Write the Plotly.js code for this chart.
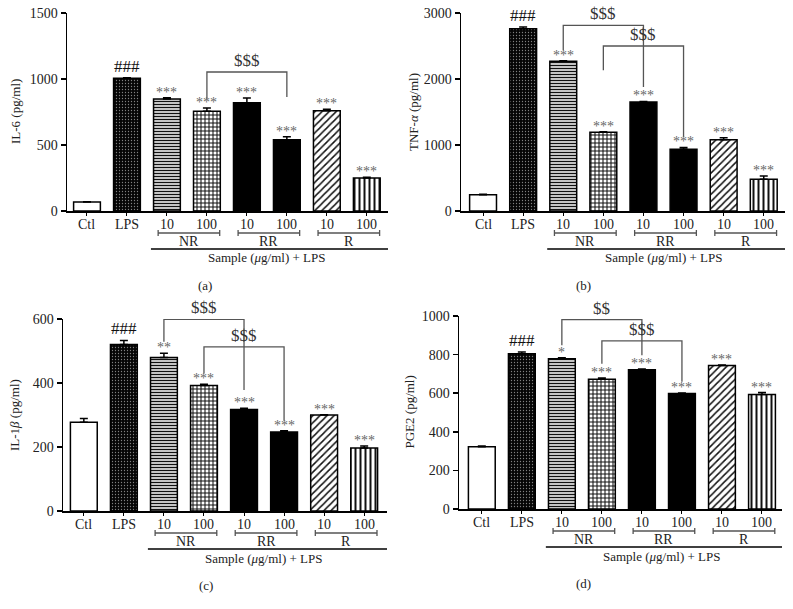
<!DOCTYPE html>
<html><head><meta charset="utf-8">
<script src="https://cdn.plot.ly/plotly-3.0.1.min.js"></script>
<style>html,body{margin:0;padding:0;background:#fff}#chart{width:793px;height:609px}</style>
</head><body><div id="chart"></div>
<script>
// ---- data ----
const tickLabels = ['Ctl','LPS','10','100','10','100','10','100'];
const groupLabels = ['NR','RR','R'];
const sampleLabel = 'Sample (<i>μ</i>g/ml) + LPS';

const il6    = [68, 1005, 848, 755, 820, 540, 760, 250];
const il6Err = [3, 4, 10, 25, 36, 23, 10, 5];
const il6Sig = ['', '###', '***', '***', '***', '***', '***', '***'];

const tnf    = [247, 2763, 2268, 1192, 1652, 934, 1081, 480];
const tnfErr = [5, 25, 10, 8, 8, 30, 30, 50];
const tnfSig = ['', '###', '***', '***', '***', '***', '***', '***'];

const il1b    = [277, 520, 480, 392, 317, 247, 300, 197];
const il1bErr = [12, 13, 13, 4, 4, 4, 1, 6];
const il1bSig = ['', '###', '**', '***', '***', '***', '***', '***'];

const pge2    = [322, 805, 779, 672, 722, 598, 743, 593];
const pge2Err = [5, 9, 5, 7, 3, 3, 3, 10];
const pge2Sig = ['', '###', '*', '***', '***', '***', '***', '***'];

// comparison brackets: [from, to, top, leftEnd, rightEnd, label]
const il6Cmp  = [[3, 5, 1053, 846, 864, '$$$']];
const tnfCmp  = [[2, 4, 2813, 2434, 1879, '$$$'], [3, 5, 2500, 2131, 1121, '$$$']];
const il1bCmp = [[2, 4, 599, 529, 378, '$$$'], [3, 5, 513, 430, 282, '$$$']];
const pge2Cmp = [[2, 4, 981, 848, 797, '$$'], [3, 5, 871, 753, 659, '$$$']];

// ---- styling ----
const W = 793, H = 609;
const FONT = 'Liberation Serif';
const FS = 13;
const px = x => x / W, py = y => 1 - y / H;

const barStyles = [
  {bg: '#ffffff', fg: '#000', shape: '',  size: 4, sol: 0.3},
  {bg: '#050505', fg: '#808080', shape: '.', size: 3, sol: 0.15},
  {bg: '#ffffff', fg: '#111', shape: '-', size: 3, sol: 0.5},
  {bg: '#ffffff', fg: '#111', shape: '+', size: 4, sol: 0.45},
  {bg: '#000000', fg: '#000', shape: '',  size: 4, sol: 0.3},
  {bg: '#000000', fg: '#000', shape: '',  size: 4, sol: 0.3},
  {bg: '#ffffff', fg: '#111', shape: '/', size: 5, sol: 0.3},
  {bg: '#ffffff', fg: '#111', shape: '|', size: 5, sol: 0.4}
];

const panels = [
  {id:'', vals:il6, err:il6Err, sig:il6Sig, cmp:il6Cmp, l:67, r:388, t:13, b:211, xr:[-0.5,7.53], yr:[0,1500], dt:500, title:'IL-6 (pg/ml)', tx:15, lab:'(a)', lx:196},
  {id:'2', vals:tnf, err:tnfErr, sig:tnfSig, cmp:tnfCmp, l:461, r:785, t:13, b:211, xr:[-0.55,7.53], yr:[0,3000], dt:1000, title:'TNF-<i>α</i> (pg/ml)', tx:413, lab:'(b)', lx:593},
  {id:'3', vals:il1b, err:il1bErr, sig:il1bSig, cmp:il1bCmp, l:63, r:387, t:319, b:511, xr:[-0.52,7.57], yr:[0,600], dt:200, title:'IL-1<i>β</i> (pg/ml)', tx:15, lab:'(c)', lx:197},
  {id:'4', vals:pge2, err:pge2Err, sig:pge2Sig, cmp:pge2Cmp, l:459, r:782, t:316, b:509, xr:[-0.57,7.5], yr:[0,1000], dt:200, title:'PGE2 (pg/ml)', tx:409, lab:'(d)', lx:593}
];

const data = [], shapes = [], annotations = [];
const layout = {
  width: W, height: H, margin: {l:0, r:0, t:0, b:0}, barmode: 'overlay',
  paper_bgcolor: 'white', plot_bgcolor: 'white', showlegend: false,
  font: {family: FONT, size: FS, color: '#222'}
};
const txt = (o) => Object.assign({showarrow: false, font: {family: FONT, size: FS, color: '#222'}}, o);

panels.forEach(p => {
  const xa = 'x' + p.id, ya = 'y' + p.id;
  const xs = p.vals.map((_, i) => i);
  p.vals.forEach((v, i) => {
    const st = barStyles[i];
    const marker = {color: st.bg, line: {color: '#000', width: 1.5}};
    if (st.shape) marker.pattern = {shape: st.shape, fillmode: 'replace', bgcolor: st.bg,
      fgcolor: st.fg, size: st.size, solidity: st.sol};
    data.push({
      type: 'bar', x: [i], y: [v], xaxis: xa, yaxis: ya, width: 0.67, marker: marker,
      error_y: {type: 'data', array: [p.err[i]], arrayminus: [0], symmetric: false,
                color: '#000', thickness: 1.5, width: 4},
      hoverinfo: 'skip'
    });
  });
  layout['xaxis' + p.id] = {
    domain: [px(p.l), px(p.r)], anchor: ya, range: p.xr,
    tickvals: xs, showticklabels: false, showline: true, linecolor: '#000', linewidth: 1.5,
    ticks: 'outside', ticklen: 3, tickwidth: 1, tickcolor: '#000', showgrid: false, zeroline: false,
    fixedrange: true
  };
  layout['yaxis' + p.id] = {
    domain: [py(p.b), py(p.t)], anchor: xa, range: p.yr, dtick: p.dt,
    showline: true, linecolor: '#000', linewidth: 1.5, ticks: 'outside', ticklen: 5,
    tickwidth: 1.5, tickcolor: '#000', showgrid: false, zeroline: false,
    tickfont: {family: FONT, size: FS + 1, color: '#222'}, fixedrange: true
  };
  // category labels
  tickLabels.forEach((t, i) => {
    annotations.push(txt({xref: xa, yref: 'paper', x: i, y: py(p.b + 13), text: t, yanchor: 'middle',
      font: {family: FONT, size: FS + 1, color: '#222'}}));
  });
  // significance marks
  p.sig.forEach((s, i) => {
    if (!s) return;
    const hash = s[0] === '#';
    annotations.push(txt({xref: xa, yref: ya, x: i, y: p.vals[i] + p.err[i], text: s,
      yanchor: 'bottom', yshift: hash ? 0 : -4,
      font: {family: FONT, size: hash ? 17 : FS + 1, color: hash ? '#111' : '#666'}}));
  });
  // comparison brackets
  p.cmp.forEach(c => {
    const [a, b, top, le, re, lab] = c;
    shapes.push({type: 'path', xref: xa, yref: ya,
      path: `M${a},${le} L${a},${top} L${b},${top} L${b},${re}`,
      line: {color: '#555', width: 1.3}});
    annotations.push(txt({xref: xa, yref: ya, x: (a + b) / 2, y: top, text: lab,
      yanchor: 'bottom', yshift: 0, font: {family: FONT, size: 17, color: '#333'}}));
  });
  // group brackets
  const yb = py(p.b + 22), yt1 = py(p.b + 19), yt2 = py(p.b + 25);
  groupLabels.forEach((g, k) => {
    const x0 = 1.78 + 2 * k, x1 = 3.32 + 2 * k;
    shapes.push({type: 'path', xref: xa, yref: 'paper',
      path: `M${x0},${yt1} L${x0},${yt2} M${x0},${yb} L${x1},${yb} M${x1},${yt1} L${x1},${yt2}`,
      line: {color: '#555', width: 1.3}});
    annotations.push(txt({xref: xa, yref: 'paper', x: (x0 + x1) / 2, y: py(p.b + 30), text: g, yanchor: 'middle',
      font: {family: FONT, size: FS + 1, color: '#222'}}));
  });
  shapes.push({type: 'line', xref: xa, yref: 'paper', x0: 1.6, x1: p.xr[1], y0: py(p.b + 38), y1: py(p.b + 38),
    line: {color: '#000', width: 1.3}});
  annotations.push(txt({xref: xa, yref: 'paper', x: 4.5, y: py(p.b + 47), text: sampleLabel, yanchor: 'middle'}));
  annotations.push(txt({xref: 'paper', yref: 'paper', x: px(p.lx), y: py(p.b + 74), text: p.lab, yanchor: 'middle'}));
  // y title
  annotations.push(txt({xref: 'paper', yref: 'paper', x: px(p.tx), y: py((p.t + p.b) / 2), text: p.title,
    textangle: -90, xanchor: 'center', yanchor: 'middle'}));
});

layout.shapes = shapes;
layout.annotations = annotations;
Plotly.newPlot('chart', data, layout, {staticPlot: true});
</script></body></html>
